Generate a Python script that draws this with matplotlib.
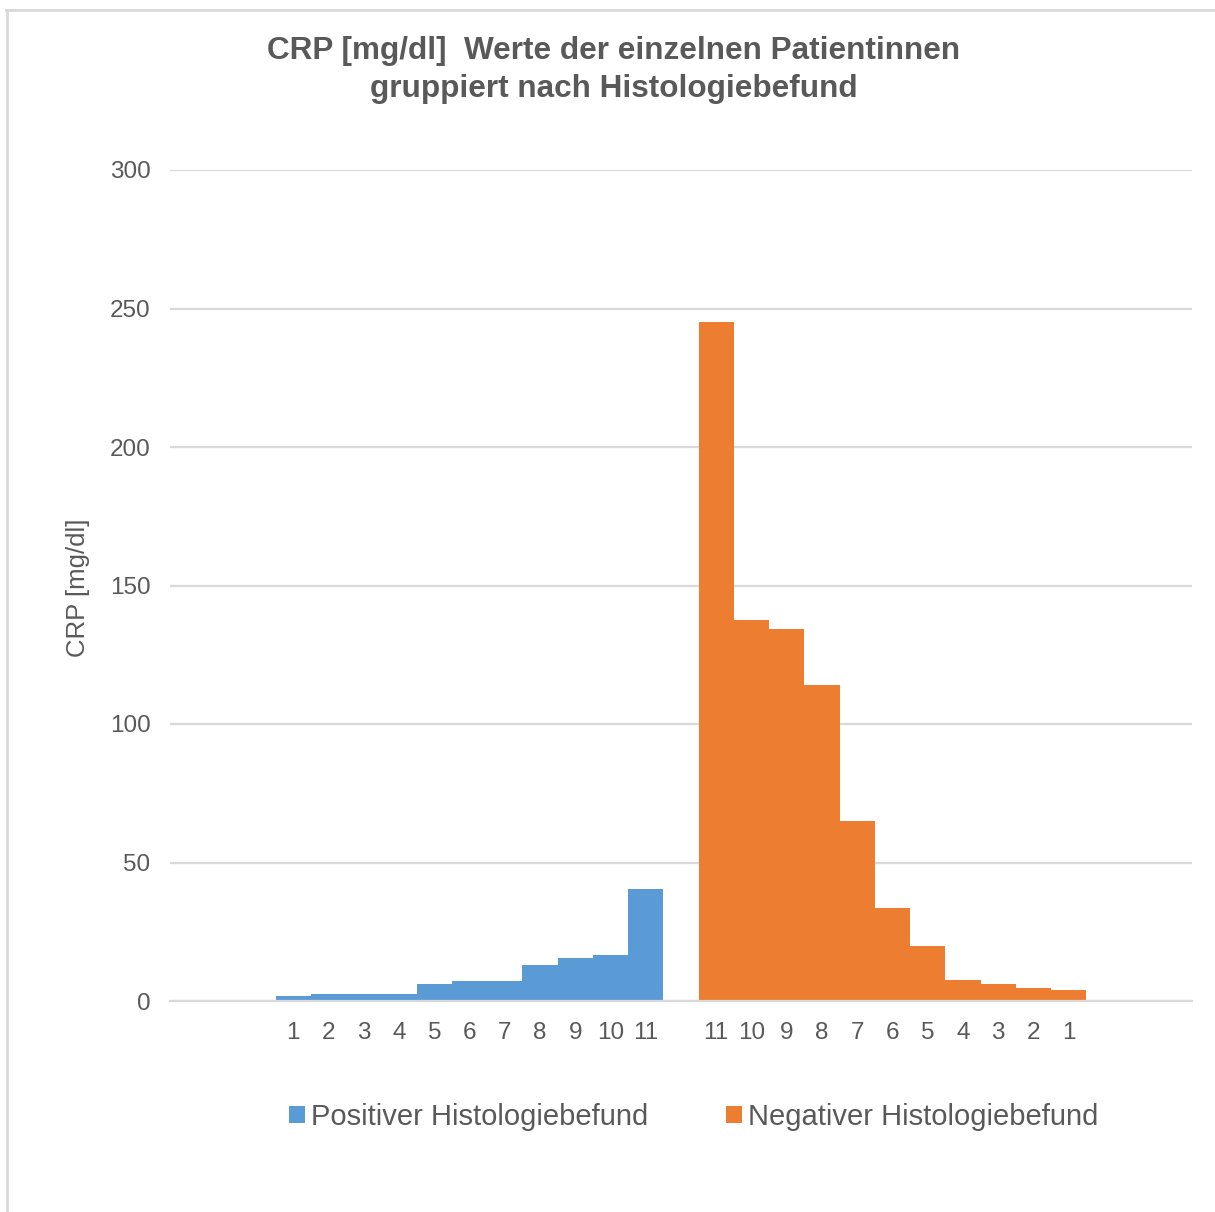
import matplotlib
matplotlib.use("Agg")
import matplotlib.pyplot as plt
from matplotlib.patches import Patch
from matplotlib.lines import Line2D

plt.rcParams['font.family'] = ['Liberation Sans', 'DejaVu Sans']

# CRP values per patient, grouped by histology result
pos_labels = ["1", "2", "3", "4", "5", "6", "7", "8", "9", "10", "11"]
pos_values = [1.7, 2.7, 2.7, 2.7, 6.0, 7.4, 7.4, 12.9, 15.6, 16.5, 40.6]
neg_labels = ["11", "10", "9", "8", "7", "6", "5", "4", "3", "2", "1"]
neg_values = [245.0, 137.6, 134.4, 114.0, 65.0, 33.5, 19.8, 7.6, 6.3, 4.8, 3.9]

pos_name = "Positiver Histologiebefund"
neg_name = "Negativer Histologiebefund"
title = "CRP [mg/dl]  Werte der einzelnen Patientinnen\ngruppiert nach Histologiebefund"
ylabel = "CRP [mg/dl]"
yticks = [0, 50, 100, 150, 200, 250, 300]

c_pos = "#5B9BD5"
c_neg = "#ED7D31"
c_text = "#595959"
c_grid = "#D9D9D9"

fig = plt.figure(figsize=(12.15, 12.12), dpi=100)
ax = fig.add_axes([170 / 1215, 1 - 1001 / 1212, (1192 - 170) / 1215, (1001 - 170) / 1212])

# category slots: 3 empty, 11 positive, 1 gap, 11 negative, 3 empty
pos_x = [3 + i for i in range(len(pos_values))]
neg_x = [3 + len(pos_values) + 1 + i for i in range(len(neg_values))]

ax.bar(pos_x, pos_values, width=1.0, color=c_pos, linewidth=0, zorder=3)
ax.bar(neg_x, neg_values, width=1.0, color=c_neg, linewidth=0, zorder=3)

ax.set_xlim(-0.5, 28.5)
ax.set_ylim(0, 300)
ax.set_yticks(yticks)
ax.set_xticks(pos_x + neg_x)
ax.set_xticklabels(pos_labels + neg_labels)
ax.tick_params(axis='both', length=0, colors=c_text, labelsize=17.5)
ax.tick_params(axis='y', pad=14)
ax.tick_params(axis='x', pad=15)

ax.yaxis.grid(True, color=c_grid, linewidth=1.6, zorder=0)
ax.set_axisbelow(True)
for s in ["top", "right", "left"]:
    ax.spines[s].set_visible(False)
ax.spines["bottom"].set_color(c_grid)
ax.spines["bottom"].set_linewidth(1.6)
ax.spines["bottom"].set_zorder(4)

ax.set_ylabel(ylabel, fontsize=18.5, color=c_text)
ax.yaxis.set_label_coords(-80 / 1022, (1001 - 588) / 831)

fig.text(0.505, 1 - 70 / 1212, title, ha='center', va='center', fontsize=22.7,
         fontweight='bold', color=c_text, linespacing=1.38)

handles = [Patch(facecolor=c_pos, edgecolor='none'), Patch(facecolor=c_neg, edgecolor='none')]
fig.legend(handles, [pos_name, neg_name], loc='center', ncol=2,
           bbox_to_anchor=(0.571, 1 - 1117 / 1212), frameon=False,
           fontsize=21, labelcolor=c_text, handlelength=0.55, handleheight=0.55,
           handletextpad=0.2, columnspacing=2.65)

# outer chart border (top and left edges)
fig.add_artist(Line2D([6 / 1215, 1.0], [1 - 10 / 1212] * 2, color=c_grid, linewidth=2))
fig.add_artist(Line2D([7 / 1215] * 2, [0, 1 - 10 / 1212], color=c_grid, linewidth=2))

fig.savefig("out.png", dpi=100, facecolor="white")
